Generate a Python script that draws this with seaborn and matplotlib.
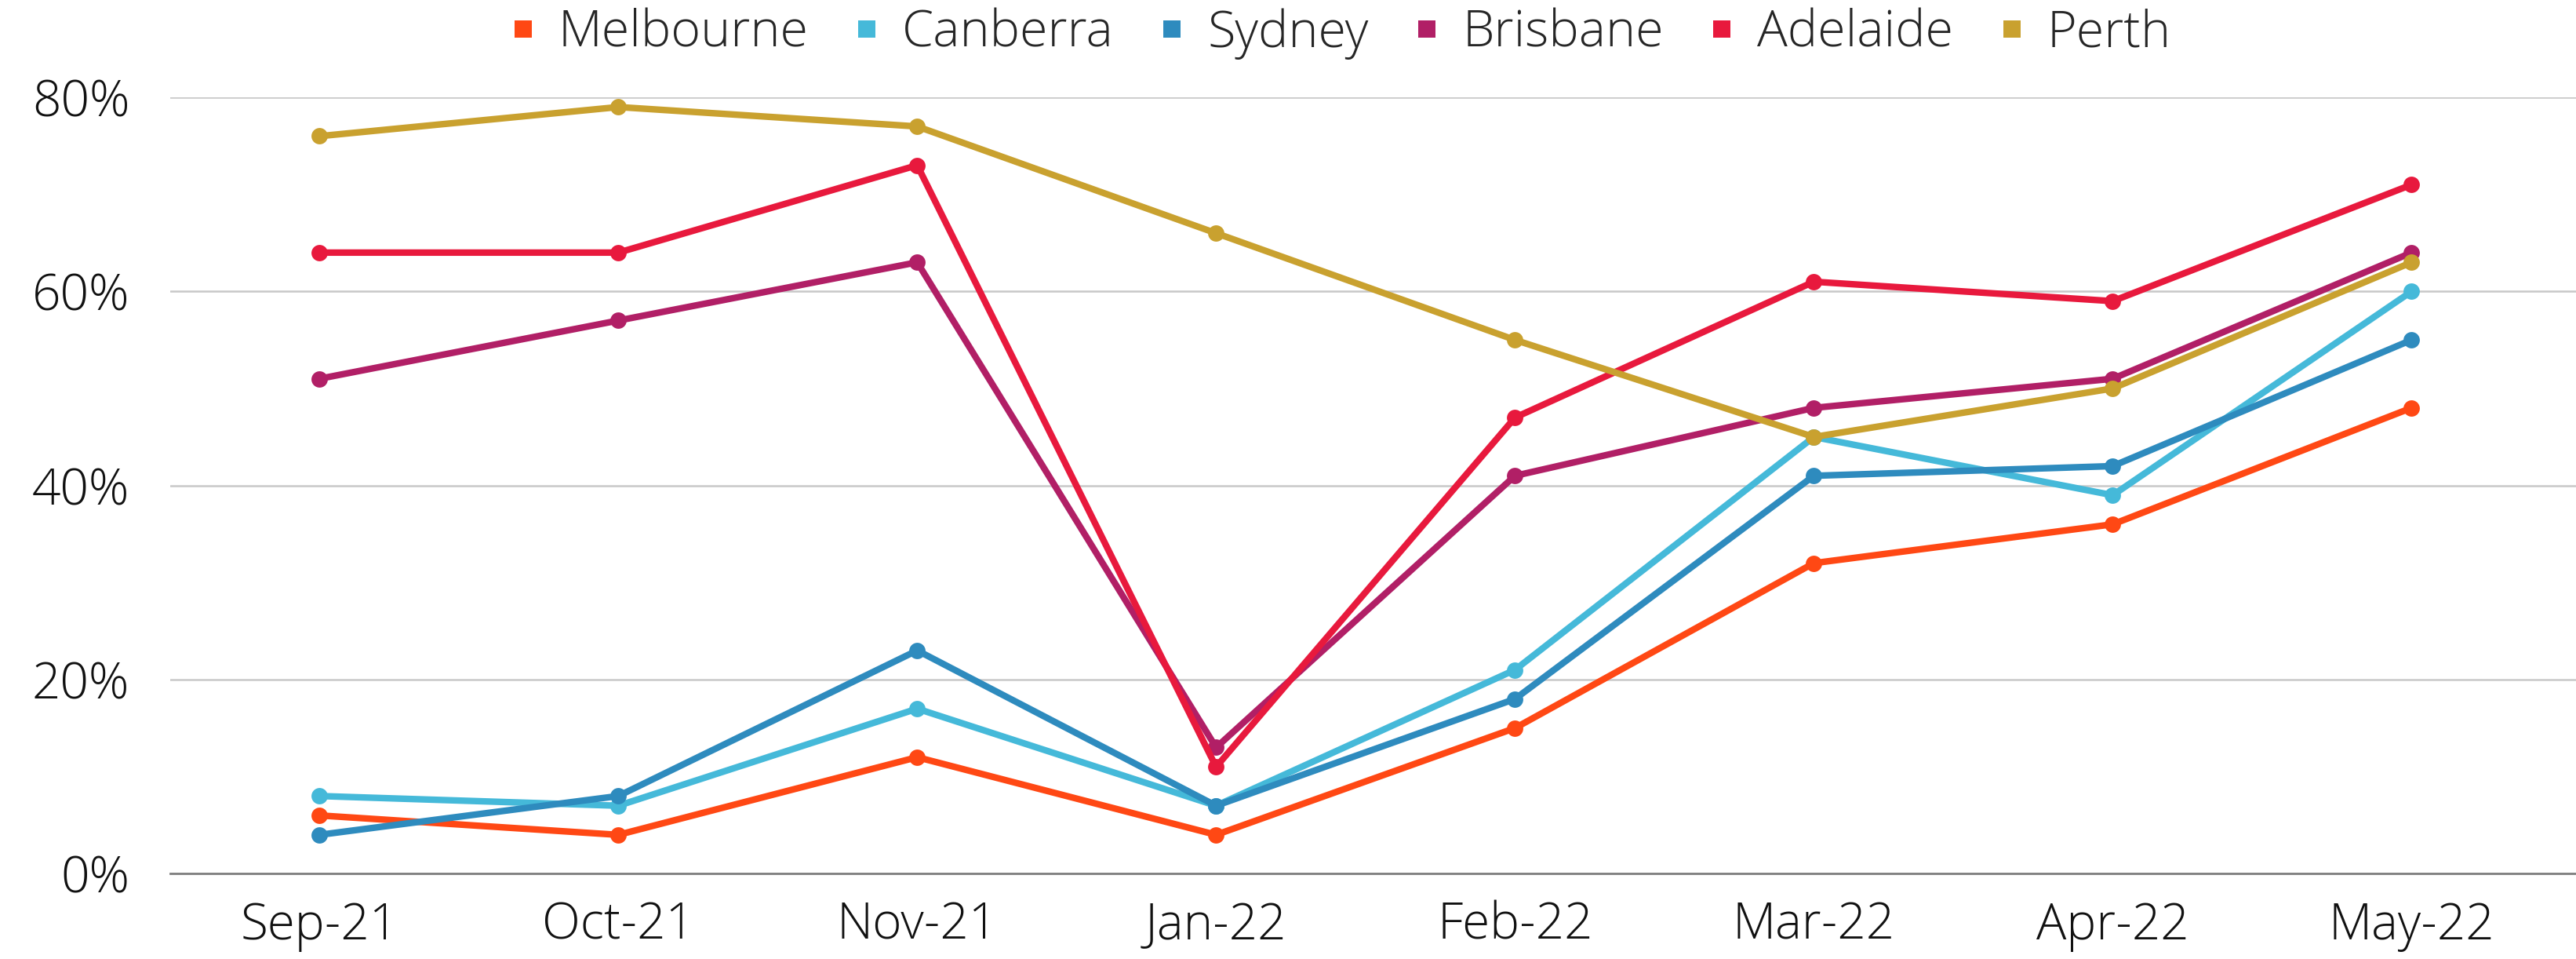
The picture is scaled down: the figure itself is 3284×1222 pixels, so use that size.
import pandas as pd
import matplotlib.pyplot as plt
import seaborn as sns
from matplotlib.lines import Line2D

# Data (percent)
months = ["Sep-21", "Oct-21", "Nov-21", "Jan-22", "Feb-22", "Mar-22", "Apr-22", "May-22"]
melbourne = [6, 4, 12, 4, 15, 32, 36, 48]
canberra = [8, 7, 17, 7, 21, 45, 39, 60]
sydney = [4, 8, 23, 7, 18, 41, 42, 55]
brisbane = [51, 57, 63, 13, 41, 48, 51, 64]
adelaide = [64, 64, 73, 11, 47, 61, 59, 71]
perth = [76, 79, 77, 66, 55, 45, 50, 63]

cities = ["Melbourne", "Canberra", "Sydney", "Brisbane", "Adelaide", "Perth"]
colors = ["#FF4814", "#45B9D9", "#2E8BBE", "#B11F66", "#E8193D", "#C9A12F"]

# long format for seaborn
rows = []
for city, vals in zip(cities, [melbourne, canberra, sydney, brisbane, adelaide, perth]):
    for m, v in zip(months, vals):
        rows.append({"Month": m, "City": city, "Value": v})
df = pd.DataFrame(rows)

sns.set_style("white")
plt.rcParams["font.family"] = ["Open Sans", "DejaVu Sans"]

fig = plt.figure(figsize=(32.84, 12.22), dpi=100)
ax = fig.add_axes([0.066, 0.089, 0.934, 0.8095])

sns.lineplot(data=df, x="Month", y="Value", hue="City", hue_order=cities,
             palette=colors, marker="o", markersize=15, markeredgewidth=0,
             linewidth=6, sort=False, legend=False, ax=ax, clip_on=False)

ax.set_ylim(0, 80)
ax.set_xlim(-0.5, 7.55)
ax.set_yticks([0, 20, 40, 60, 80])
ax.set_yticklabels([f"{t}%" for t in [0, 20, 40, 60, 80]])
ax.yaxis.grid(True, color="#c8c8c8", linewidth=1.8)
ax.set_axisbelow(True)
for s in ["top", "right", "left"]:
    ax.spines[s].set_visible(False)
ax.spines["bottom"].set_color("#7f7f7f")
ax.spines["bottom"].set_linewidth(2)
ax.tick_params(axis="both", length=0, labelsize=46, colors="#111111")
ax.tick_params(axis="y", pad=37)
ax.tick_params(axis="x", pad=25)
for lbl in ax.get_xticklabels() + ax.get_yticklabels():
    lbl.set_fontweight("light")
ax.set_xlabel("")
ax.set_ylabel("")

handles = [Line2D([], [], linestyle="none", marker="s", markersize=16,
                  markerfacecolor=c, markeredgewidth=0) for c in colors]
leg = fig.legend(handles, cities, loc="center", bbox_to_anchor=(0.519, 0.965),
                 ncol=6, frameon=False, fontsize=46.5, handletextpad=0.3,
                 columnspacing=0.75, handlelength=0.8)
for t in leg.get_texts():
    t.set_fontweight("light")

fig.savefig("out.png", dpi=100)
